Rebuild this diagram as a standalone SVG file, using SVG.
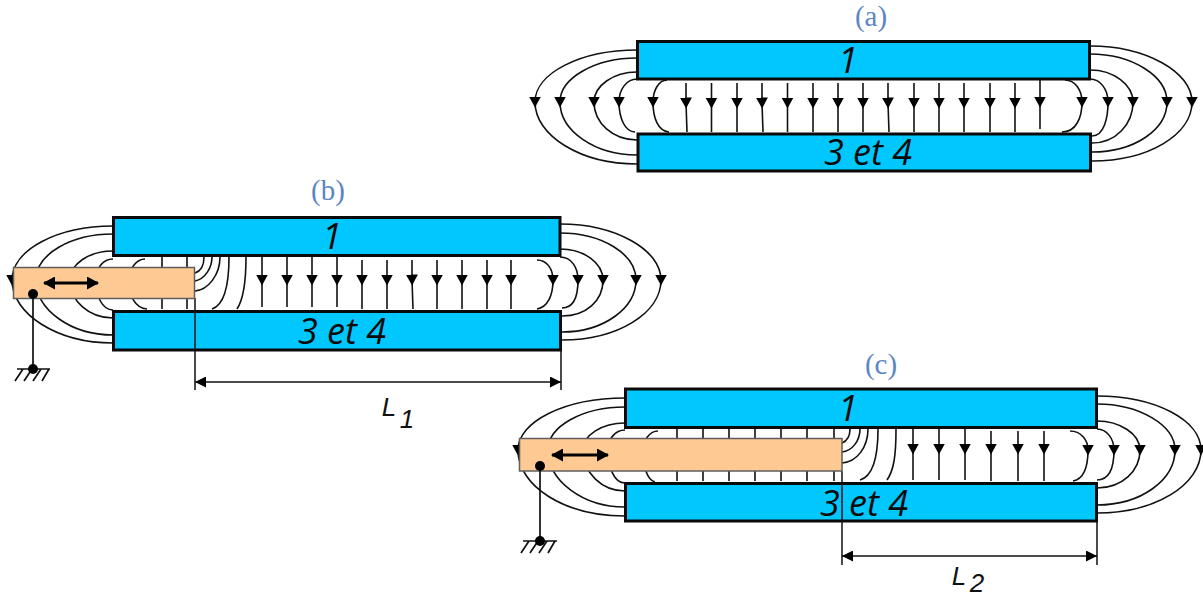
<svg xmlns="http://www.w3.org/2000/svg" width="1203" height="598" viewBox="0 0 1203 598">
<style>
.plate{fill:#00c8ff;stroke:#0a0a0a;stroke-width:3}
.slider{fill:#ffc993;stroke:#5e5e5e;stroke-width:1.5}
.f path{fill:none;stroke:#111;stroke-width:1.6;marker-mid:url(#ah)}
.f path.n{marker-mid:none}
.dim path{fill:none;stroke:#111;stroke-width:1.5}
.dim path.b{marker-start:url(#dhs);marker-end:url(#dh)}
.g path{fill:none;stroke:#111;stroke-width:1.7}
.move{fill:none;stroke:#000;stroke-width:3;marker-start:url(#mhs);marker-end:url(#mh)}
.lbl{font-family:"Open Sans","Noto Sans",sans-serif;font-style:italic;font-size:36px;fill:#0a0a0a;text-anchor:middle}
.cap{font-family:"Liberation Serif",serif;font-size:29px;fill:#5b86c4;text-anchor:middle}
.ls{font-family:"Liberation Sans",sans-serif;font-style:italic;font-size:26px;fill:#111;text-anchor:middle}
</style>
<defs>
<marker id="ah" viewBox="0 0 11 12" markerWidth="11" markerHeight="12" refX="5.500" refY="6" orient="auto" markerUnits="userSpaceOnUse"><path d="M0 0L11 6L0 12Z" fill="#000"/></marker>
<marker id="dh" viewBox="0 0 11 11" markerWidth="11" markerHeight="11" refX="11" refY="5.500" orient="auto" markerUnits="userSpaceOnUse"><path d="M0 0L11 5.500L0 11Z" fill="#000"/></marker>
<marker id="dhs" viewBox="0 0 11 11" markerWidth="11" markerHeight="11" refX="0" refY="5.500" orient="auto" markerUnits="userSpaceOnUse"><path d="M11 0L0 5.500L11 11Z" fill="#000"/></marker>
<marker id="mh" viewBox="0 0 12 13" markerWidth="12" markerHeight="13" refX="11" refY="6.500" orient="auto" markerUnits="userSpaceOnUse"><path d="M0 0L12 6.500L0 13Z" fill="#000"/></marker>
<marker id="mhs" viewBox="0 0 12 13" markerWidth="12" markerHeight="13" refX="1" refY="6.500" orient="auto" markerUnits="userSpaceOnUse"><path d="M12 0L0 6.500L12 13Z" fill="#000"/></marker>
</defs>
<g id="caption-a"><text class="cap" x="871" y="26">(a)</text></g>
<g id="caption-b"><text class="cap" x="328" y="200">(b)</text></g>
<g id="caption-c"><text class="cap" x="881" y="374">(c)</text></g>
<g id="a-plate-1"><rect class="plate" x="637.500" y="41.500" width="452" height="37.500"/><text class="lbl" x="848" y="73">1</text></g>
<g id="a-plate-34"><rect class="plate" x="638" y="134" width="452.500" height="37"/><text class="lbl" x="868" y="165">3 et 4</text></g>
<g id="b-plate-1"><rect class="plate" x="113.500" y="217.500" width="446.500" height="38"/><text class="lbl" x="332" y="249">1</text></g>
<g id="b-plate-34"><rect class="plate" x="113.500" y="311.500" width="447" height="38.500"/><text class="lbl" x="342" y="344">3 et 4</text></g>
<g id="c-plate-1"><rect class="plate" x="625.500" y="389" width="471" height="38.500"/><text class="lbl" x="848" y="421">1</text></g>
<g id="c-plate-34"><rect class="plate" x="625.500" y="483.500" width="471" height="37.500"/><text class="lbl" x="864" y="516">3 et 4</text></g>
<g id="connectors">
<g id="field-a" class="f">
<path d="M637 50C581 50 535 73 535 102C535 136 581 164 637 164"/>
<path d="M637 58C595 58 560 78 560 102C560 131 595 155 637 155"/>
<path d="M637 72C613 72 594 86 594 102C594 123 613 140 637 140"/>
<path d="M637 79C627 79 619 89 619 102C619 118 625 132 635 132"/>
<path d="M667 80C659 80 653 90 653 102C653 118 658 131 669 132"/>
<path d="M686 83V103L687 132"/><path d="M711.500 83V103V132"/><path d="M737 83V103V132"/><path d="M762 83V103L763 132"/><path d="M787.500 83V103V132"/><path d="M813 83V103V132"/><path d="M838 83V103V132"/><path d="M863 83V103V132"/><path d="M888 83V103L889 132"/><path d="M914 83V103V132"/><path d="M939 83V103V132"/><path d="M964 83V103V132"/><path d="M990 83V103V132"/><path d="M1015 83V103V132"/><path d="M1040 80V102V129"/>
<path d="M1065 80C1075 80 1082 90 1082 102C1082 118 1076 132 1062 132"/>
<path d="M1090 79C1100 79 1108 89 1108 102C1108 118 1104 136 1092 136"/>
<path d="M1090 70C1114 70 1133 85 1133 102C1133 124 1116 143 1092 143"/>
<path d="M1090 54C1132 54 1167 76 1167 102C1167 130 1134 152 1092 152"/>
<path d="M1090 46C1146 46 1192 72 1192 102C1192 135 1148 161 1092 161"/>
</g>
<g id="field-b" class="f">
<path d="M113 226C57 226 12 250 12 280C12 314 57 343 113 343"/>
<path d="M113 234C71 234 36 254 36 280C36 310 71 335 113 335"/>
<path d="M113 251C89 251 70 264 70 280C70 301 89 318 113 318"/>
<path d="M113 259C103 259 96 268 96 280C96 296 102 310 113 310"/>
<path d="M145 259C137 259 129 268 129 280C129 296 135 308 147 309"/>
<path class="n" d="M162 257V309M187 257V309"/>
<path class="n" d="M204 257C204 265 201 271 195 273"/>
<path class="n" d="M212 257C212 268 205 279 195 281"/>
<path class="n" d="M220 257C220 275 208 290 195 291"/>
<path class="n" d="M229 257C229 285 224 305 212 309"/>
<path class="n" d="M246 257C246 285 243 300 237 309"/>
<path d="M262 257V280V307"/><path d="M287 257V280V307"/><path d="M312 257V280V307"/><path d="M337 257V280V307"/><path d="M362 260V280V309"/><path d="M387 260V280V309"/><path d="M412 260V280L413 309"/><path d="M437 260V280V309"/><path d="M462 260V280V309"/><path d="M487 260V280V309"/><path d="M511 260V280V309"/>
<path d="M537 260C547 260 553 269 553 280C553 295 548 307 537 309"/>
<path d="M560 257C571 257 578 267 578 280C578 296 574 308 562 308"/>
<path d="M560 249C584 249 603 263 603 280C603 301 586 316 562 316"/>
<path d="M560 233C602 233 636 254 636 280C636 308 604 332 562 332"/>
<path d="M560 224C616 224 661 250 661 280C661 313 618 340 562 340"/>
</g>
<g id="field-c" class="f">
<path d="M625 398C564 398 518 422 518 450C518 486 564 516 625 516"/>
<path d="M625 407C583 407 548 426 548 450C548 481 583 507 625 507"/>
<path d="M625 423C602 423 583 435 583 450C583 473 602 491 625 491"/>
<path d="M625 430C615 430 608 439 608 450C608 467 614 483 625 483"/>
<path d="M658 431C650 431 643 440 643 450C643 466 647 480 655 482"/>
<path class="n" d="M677 429V481M703 429V481M729 429V481M755 429V481M781 429V481M807 429V481M834 429V481"/>
<path class="n" d="M850 429C850 436 847 441 842 443"/>
<path class="n" d="M860 429C860 441 852 451 842 452"/>
<path class="n" d="M868 429C868 447 857 462 842 463"/>
<path class="n" d="M878 429C878 455 874 476 860 480"/>
<path class="n" d="M896 429C896 455 894 470 887 480"/>
<path d="M913 429V449V480"/><path d="M939 429V449V480"/><path d="M965 429V449V480"/><path d="M991 431V449V481"/><path d="M1018 431V449V481"/><path d="M1044 431V449V481"/>
<path d="M1070 431C1081 431 1088 440 1088 450C1088 466 1084 479 1073 481"/>
<path d="M1097 429C1107 429 1114 439 1114 450C1114 466 1110 480 1097 480"/>
<path d="M1097 421C1120 421 1140 434 1140 450C1140 471 1122 488 1097 488"/>
<path d="M1097 404C1139 404 1175 425 1175 450C1175 480 1141 505 1097 505"/>
<path d="M1097 396C1155 396 1201 420 1201 450C1201 485 1155 513 1097 513"/>
</g>
<g id="dimensions" class="dim">
<path d="M195 298V390M561 350V390M842 471V565M1097 521V565"/>
<path class="b" d="M195 382H561"/>
<path class="b" d="M842 556H1097"/>
</g>
</g>
<g id="b-slider"><rect class="slider" x="13.500" y="267.500" width="181" height="31"/><path class="move" d="M44 283H98"/></g>
<g id="c-slider"><rect class="slider" x="519.500" y="438.500" width="322.500" height="32.500"/><path class="move" d="M552 455H608"/></g>
<g id="b-ground" class="g">
<path d="M33 294V369M17 369H50M23 369L15 381M32 369L24 381M41 369L33 381M49 369L42 381"/>
<circle cx="33" cy="294" r="5" fill="#000"/><circle cx="33" cy="369" r="5" fill="#000"/>
</g>
<g id="c-ground" class="g">
<path d="M540 466V541M523 541H557M529 541L521 553M538 541L530 553M547 541L539 553M555 541L548 553"/>
<circle cx="540" cy="466" r="5" fill="#000"/><circle cx="540" cy="541" r="5" fill="#000"/>
</g>
<g id="label-l1"><text class="ls" x="389" y="416">L</text><text class="ls" x="407" y="428">1</text></g>
<g id="label-l2"><text class="ls" x="959" y="585">L</text><text class="ls" x="977" y="592">2</text></g>
</svg>
